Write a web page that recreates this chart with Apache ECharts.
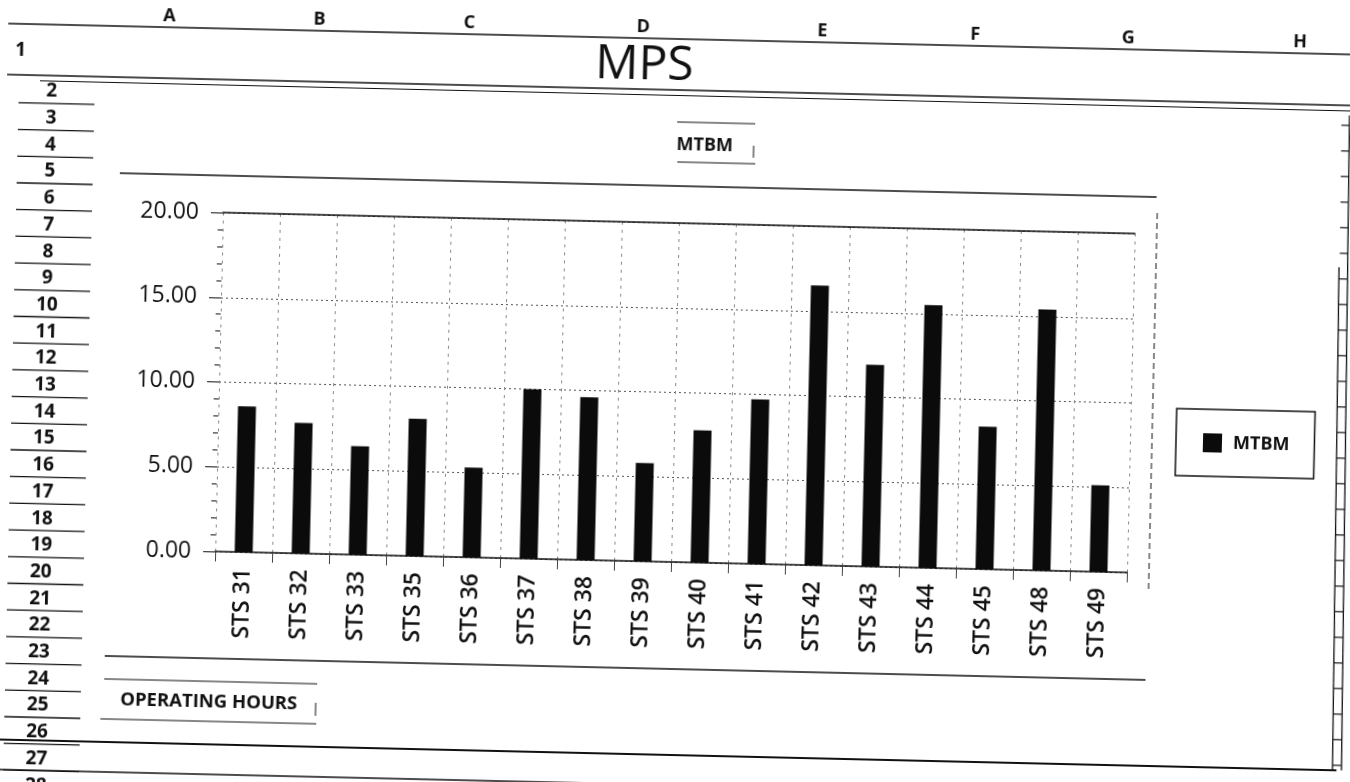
<!DOCTYPE html>
<html>
<head>
<meta charset="utf-8">
<script src="https://cdn.jsdelivr.net/npm/echarts@6/dist/echarts.min.js"></script>
<style>
  html, body { margin: 0; padding: 0; background: #fff; overflow: hidden; width: 1350px; height: 782px; }
  /* the sheet sits slightly askew on the page */
  #chart { position: absolute; left: 0; top: 0; width: 1360px; height: 812px;
           transform: rotate(1.32deg); transform-origin: 675px 391px; }
</style>
</head>
<body>
<div id="chart"></div>
<script>
// ---- data ----
const categories = ['STS 31', 'STS 32', 'STS 33', 'STS 35', 'STS 36', 'STS 37', 'STS 38', 'STS 39',
                    'STS 40', 'STS 41', 'STS 42', 'STS 43', 'STS 44', 'STS 45', 'STS 48', 'STS 49'];
const mtbm = [8.6, 7.7, 6.4, 8.1, 5.3, 10.0, 9.6, 5.8, 7.8, 9.7, 16.5, 11.9, 15.5, 8.4, 15.4, 5.1];
const seriesName = 'MTBM';
const sheetTitle = 'MPS';
const valueAxisTitle = 'MTBM';
const categoryAxisTitle = 'OPERATING HOURS';
const columnLetters = ['A', 'B', 'C', 'D', 'E', 'F', 'G', 'H'];
const rowNumbers = ['1', '2', '3', '4', '5', '6', '7', '8', '9', '10', '11', '12', '13', '14',
                    '15', '16', '17', '18', '19', '20', '21', '22', '23', '24', '25', '26', '27', '28'];

// ---- layout ----
const INK = '#111';
const FONT = '"Open Sans", "DejaVu Sans", sans-serif';
const columnX = [161, 311, 461, 635, 814, 967, 1120, 1292];
const rowY = k => (k === 1 ? 66 : 586.5 - (20 - k) * 26.7);

const g = [];
function line(x1, y1, x2, y2, w, dash) {
  g.push({ type: 'line', silent: true, shape: { x1, y1, x2, y2 },
           style: { stroke: INK, lineWidth: w || 1.2, lineDash: dash || null } });
}
function text(x, y, s, size, weight, align) {
  g.push({ type: 'text', silent: true, x, y,
           style: { text: s, fontSize: size, fontWeight: weight || 'normal', fontFamily: FONT,
                    fill: INK, align: align || 'center', verticalAlign: 'middle' } });
}

// spreadsheet frame: column letters, row numbers and ruled lines
columnLetters.forEach((c, i) => text(columnX[i], 28, c, 18, 'bold'));
line(0, 39, 1360, 39, 1.5);
line(0, 90, 1360, 90, 1.5);
line(33, 95.5, 1360, 95.5, 1.2);
rowNumbers.forEach((r, i) => {
  const k = i + 1;
  const x = k === 1 ? 13 : 45;
  text(x, rowY(k), r, 19, 'bold');
  if (k > 1) line(12, rowY(k) + 12, 88, rowY(k) + 12, 1.3);
});
line(0, 755, 1345, 755, 2);
line(0, 785, 1360, 785, 1.5);

// right-hand ruler
line(1343, 100, 1350, 755, 1.3);
line(1336, 252, 1341, 755, 1.3);
for (let y = 110; y <= 755; y += 25.6) {
  const xo = 1343 + 7 * (y - 100) / 655;
  const xi = y >= 252 ? 1336 + 5 * (y - 252) / 503 : xo - 8;
  line(xi, y, xo, y, 1.2);
}

// title
text(637, 66, sheetTitle, 48, 'normal');

// value-axis caption box
line(671, 122, 749, 122, 1.2);
line(672, 162, 750, 162, 1.2);
line(748, 144, 748, 156, 1);
text(699, 145, valueAxisTitle, 18, 'bold');

// chart frame lines
line(115, 186, 1152, 186, 1.5);
line(1153, 202, 1153, 580, 1, [6, 4]);
line(111, 669, 1152, 669, 1.5);

// category-axis caption box
line(111, 692, 324, 692, 1.2);
line(108, 732, 324, 732, 1.2);
line(323, 711, 323, 724, 1);
text(216, 713, categoryAxisTitle, 18.5, 'bold');

const chart = echarts.init(document.getElementById('chart'), null, { renderer: 'canvas' });
chart.setOption({
  animation: false,
  textStyle: { fontFamily: FONT },
  grid: { left: 219, top: 223, width: 912, height: 339, containLabel: false },
  legend: {
    data: [seriesName], left: 1177, top: 397, icon: 'rect',
    itemWidth: 19, itemHeight: 19, padding: [24, 25, 24, 27],
    borderColor: INK, borderWidth: 1.5,
    textStyle: { fontSize: 18, fontWeight: 'bold', color: INK, padding: [0, 0, 0, 6], fontFamily: FONT }
  },
  xAxis: [
    {
      type: 'category', data: categories, boundaryGap: true,
      axisLine: { show: true, lineStyle: { color: INK, width: 1.5 } },
      axisTick: { show: true, length: 10, lineStyle: { color: '#444' } },
      axisLabel: { rotate: 90, margin: 16, fontSize: 23, fontWeight: 600, color: INK, fontFamily: FONT },
      splitLine: { show: true, lineStyle: { color: '#888', type: [3, 5], width: 1 } }
    },
    {
      type: 'category', data: categories, position: 'top', boundaryGap: true,
      axisLine: { show: true, lineStyle: { color: INK, width: 1.5 } },
      axisTick: { show: false }, axisLabel: { show: false }, splitLine: { show: false }
    }
  ],
  yAxis: {
    type: 'value', min: 0, max: 20, interval: 5,
    axisLine: { show: false },
    axisTick: { show: true, length: 12, lineStyle: { color: INK } },
    minorTick: { show: true, splitNumber: 5, length: 5, lineStyle: { color: INK } },
    axisLabel: { formatter: v => v.toFixed(2), fontSize: 23, fontWeight: 500, margin: 24, color: INK, fontFamily: FONT },
    splitLine: { show: true, lineStyle: { color: '#555', type: [2, 3], width: 1 } }
  },
  series: [{
    type: 'bar', name: seriesName, data: mtbm, xAxisIndex: 0,
    barWidth: 18, itemStyle: { color: '#0b0b0b' }
  }],
  graphic: g
});
</script>
</body>
</html>
